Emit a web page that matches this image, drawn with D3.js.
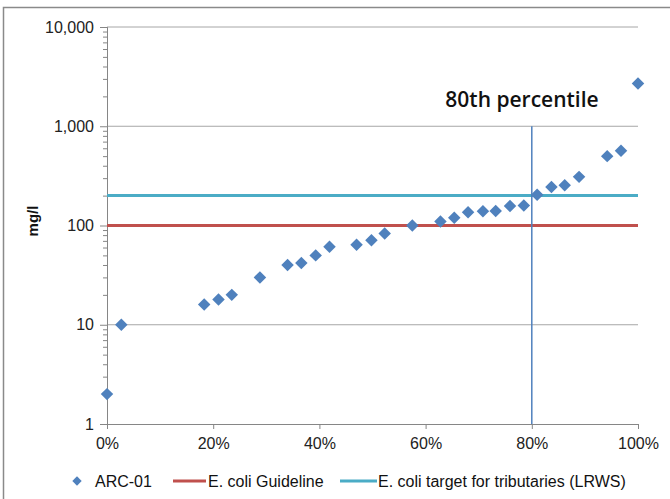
<!DOCTYPE html>
<html>
<head>
<meta charset="utf-8">
<script src="https://cdn.jsdelivr.net/npm/d3@7"></script>
<style>
  body { margin: 0; background: #fff; }
  .canvas text { font-family: "Liberation Sans", Arial, sans-serif; }
</style>
</head>
<body>
<div class="canvas"></div>
<script>
// percentile rank of each sample, and its value (mg/l)
const percentiles = [0, 0.027, 0.183, 0.210, 0.235, 0.288, 0.340, 0.366, 0.393, 0.419,
  0.470, 0.498, 0.523, 0.575, 0.628, 0.654, 0.680, 0.708, 0.732, 0.759, 0.785,
  0.810, 0.837, 0.862, 0.889, 0.942, 0.968, 1.0];
const values = [2, 10, 16, 18, 20, 30, 40, 42, 50, 61, 64, 71, 83, 100, 110, 120,
  136, 139, 140, 157, 159, 204, 244, 255, 309, 500, 565, 2700];

const guideline = 100;   // E. coli Guideline
const target = 200;      // E. coli target for tributaries (LRWS)
const percentileMark = 0.8;

const yMajor = [1, 10, 100, 1000, 10000];
const xTicks = [0, 0.2, 0.4, 0.6, 0.8, 1];

const legendItems = ["ARC-01", "E. coli Guideline", "E. coli target for tributaries (LRWS)"];

const dims = { width: 670, height: 499 };
const plot = { left: 107, right: 638, top: 27, bottom: 424 };

const colors = {
  point: "#4f81bd",
  guide: "#c0504d",
  target: "#4bacc6",
  axis: "#868686",
  grid: "#a6a6a6",
};

const svg = d3
  .select(".canvas")
  .append("svg")
  .attr("width", dims.width)
  .attr("height", dims.height);

// outer frame
svg
  .append("rect")
  .attr("x", 3.5)
  .attr("y", 7.5)
  .attr("width", 800)
  .attr("height", 600)
  .attr("fill", "none")
  .attr("stroke", "#8a8a8a")
  .attr("stroke-width", 1.5);

const x = d3.scaleLinear().domain([0, 1]).range([plot.left, plot.right]);
const y = d3.scaleLog().domain([1, 10000]).range([plot.bottom, plot.top]);

// gridlines
svg
  .append("g")
  .selectAll("line")
  .data(yMajor.slice(1))
  .enter()
  .append("line")
  .attr("x1", plot.left)
  .attr("x2", plot.right)
  .attr("y1", (d) => y(d))
  .attr("y2", (d) => y(d))
  .attr("stroke", colors.grid)
  .attr("stroke-width", 1);

// minor y ticks
const minor = [];
yMajor.slice(0, -1).forEach((m) => {
  for (let k = 2; k < 10; k++) minor.push(m * k);
});

const yMinorAxis = svg
  .append("g")
  .attr("transform", `translate(${plot.left},0)`)
  .call(d3.axisLeft(y).tickValues(minor).tickSize(4).tickFormat(""));

const yAxis = svg
  .append("g")
  .attr("transform", `translate(${plot.left},0)`)
  .call(d3.axisLeft(y).tickValues(yMajor).tickSize(7).tickPadding(6).tickFormat(d3.format(",")));

const xAxis = svg
  .append("g")
  .attr("transform", `translate(0,${plot.bottom})`)
  .call(d3.axisBottom(x).tickValues(xTicks).tickSize(5).tickPadding(9).tickFormat(d3.format(".0%")));

[yMinorAxis, yAxis, xAxis].forEach((ax) => {
  ax.select(".domain").attr("stroke", colors.axis);
  ax.selectAll(".tick line").attr("stroke", colors.axis);
  ax.selectAll("text")
    .attr("fill", "#222")
    .style("font-size", "16px")
    .style("font-family", '"Liberation Sans", Arial, sans-serif');
});

// y title
svg
  .append("text")
  .attr("transform", `translate(38, 221) rotate(-90)`)
  .attr("text-anchor", "middle")
  .style("font-size", "15px")
  .style("font-weight", "bold")
  .attr("fill", "#111")
  .text("mg/l");

// reference lines
const refLine = (v, c) =>
  svg
    .append("line")
    .attr("x1", plot.left)
    .attr("x2", plot.right)
    .attr("y1", y(v))
    .attr("y2", y(v))
    .attr("stroke", c)
    .attr("stroke-width", 3);

refLine(target, colors.target);
refLine(guideline, colors.guide);

// 80th percentile marker
svg
  .append("line")
  .attr("x1", x(percentileMark))
  .attr("x2", x(percentileMark))
  .attr("y1", y(1000))
  .attr("y2", y(1))
  .attr("stroke", colors.point)
  .attr("stroke-width", 1.5);

svg
  .append("text")
  .attr("x", 522)
  .attr("y", 107)
  .attr("text-anchor", "middle")
  .style("font-family", '"Open Sans", "Noto Sans", sans-serif')
  .style("font-size", "21px")
  .style("font-weight", 600)
  .attr("fill", "#111")
  .text("80th percentile");

// points
const diamond = d3.symbol().type(d3.symbolSquare).size(78);

svg
  .append("g")
  .selectAll("path")
  .data(values.map((v, i) => ({ p: percentiles[i], v })))
  .enter()
  .append("path")
  .attr("d", diamond)
  .attr("transform", (d) => `translate(${x(d.p)},${y(d.v)}) rotate(45)`)
  .attr("fill", colors.point);

// legend
const legend = svg.append("g").attr("transform", "translate(0,481)");

legend
  .append("path")
  .attr("d", d3.symbol().type(d3.symbolSquare).size(44))
  .attr("transform", "translate(77,0) rotate(45)")
  .attr("fill", colors.point);

const legendText = (tx, s) =>
  legend
    .append("text")
    .attr("x", tx)
    .attr("y", 0)
    .attr("dy", "0.35em")
    .style("font-size", "16px")
    .attr("fill", "#111")
    .text(s);

legendText(95, legendItems[0]);

legend
  .append("line")
  .attr("x1", 173)
  .attr("x2", 206)
  .attr("stroke", colors.guide)
  .attr("stroke-width", 3);
legendText(208, legendItems[1]);

legend
  .append("line")
  .attr("x1", 340)
  .attr("x2", 377)
  .attr("stroke", colors.target)
  .attr("stroke-width", 3);
legendText(378, legendItems[2]);
</script>
</body>
</html>
